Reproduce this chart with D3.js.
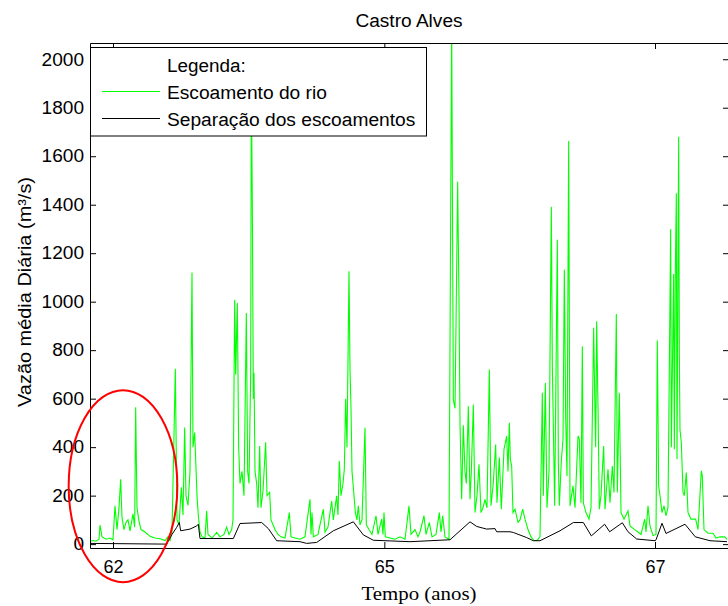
<!DOCTYPE html>
<html><head><meta charset="utf-8">
<script src="https://cdn.jsdelivr.net/npm/d3@7"></script>
<style>
html,body{margin:0;padding:0;background:#fff;}
svg{display:block;}
</style></head><body>
<svg id="chart" width="728" height="606"></svg>
<script>
// ---- data ----
const titulo = "Castro Alves";
const rotuloX = "Tempo (anos)";
const rotuloY = "Vazão média Diária (m³/s)";
const legendaTitulo = "Legenda:";
const nomesSeries = ["Escoamento do rio", "Separação dos escoamentos"];

// time in days from start of record
const diasRio = [0,9,18,27,30,36,48,60,69,75,81,87,92,96,102,108,114,120,129,134,137,141,147,153,165,180,195,210,225,234,240,246,256,261,267,274,279,284,288,294,300,306,309,314,321,325,330,336,345,350,354,366,380,390,402,410,417,425,429,434,437,442,446,450,456,462,469,473,477,482,484,487,490,492,495,500,504,509,513,519,527,531,539,543,549,555,564,573,585,598,603,615,630,645,660,663,666,670,684,700,705,714,725,730,740,744,748,753,759,763,767,771,777,780,783,786,792,796,801,805,810,816,825,829,837,846,858,864,875,879,882,886,900,915,930,945,957,963,975,984,990,1002,1008,1018,1026,1038,1048,1053,1058,1065,1077,1085,1090,1095,1098,1103,1107,1110,1115,1120,1125,1129,1135,1140,1144,1150,1155,1161,1167,1173,1179,1185,1191,1198,1203,1210,1217,1221,1228,1234,1242,1250,1254,1258,1261,1265,1269,1275,1284,1290,1298,1305,1314,1323,1332,1341,1350,1357,1360,1366,1371,1377,1384,1387,1394,1402,1405,1408,1414,1419,1423,1427,1431,1436,1440,1449,1455,1464,1468,1473,1477,1480,1488,1497,1503,1511,1514,1517,1520,1524,1528,1533,1541,1545,1554,1560,1567,1572,1579,1582,1588,1593,1602,1614,1620,1634,1644,1653,1664,1668,1674,1680,1689,1698,1702,1706,1710,1716,1722,1728,1734,1742,1744,1747,1751,1753,1756,1759,1761,1766,1768,1770,1774,1779,1783,1789,1794,1803,1817,1824,1834,1837,1842,1854,1869,1878,1890,1904,1911];
const vazaoRio = [12,15,12,20,78,30,20,25,18,158,60,150,267,110,60,90,100,55,125,70,565,150,95,60,50,32,25,22,15,30,15,50,723,100,80,234,120,481,200,160,300,1120,400,460,200,117,50,30,25,137,40,25,48,30,40,70,40,60,100,1008,700,995,400,250,300,200,953,300,250,700,1900,1400,600,707,300,250,150,405,150,220,420,200,213,100,80,60,40,30,25,130,30,25,20,30,185,40,130,30,40,144,50,70,178,100,199,120,343,200,250,309,600,400,1125,720,560,300,200,130,100,158,80,100,480,80,60,40,117,40,103,40,130,30,25,20,30,20,158,40,60,30,50,117,40,89,30,40,130,50,117,30,20,2150,597,560,900,1495,1008,500,185,490,300,250,569,185,300,576,130,200,329,130,150,185,150,720,158,254,411,171,357,144,391,446,300,501,350,322,130,144,90,100,144,103,60,30,15,15,30,624,200,665,150,300,1392,734,158,1255,336,158,343,432,1132,528,281,1663,158,240,150,446,432,171,816,171,130,103,150,892,624,400,919,568,144,200,405,144,309,171,322,213,949,213,624,130,103,137,75,60,50,40,103,50,158,75,35,40,840,240,200,130,158,117,150,1300,400,706,1114,391,1118,1447,350,1680,789,470,418,213,200,295,130,103,103,60,302,281,60,45,45,25,30,30,20];

const diasBase = [0,230,246,260,268,272,300,320,325,330,430,450,515,535,560,630,650,680,730,790,820,850,960,1080,1140,1160,1190,1215,1220,1260,1270,1310,1330,1350,1410,1450,1480,1504,1544,1559,1597,1614,1640,1696,1699,1716,1728,1785,1816,1860,1911];
const vazaoBase = [3,0,40,69,89,55,62,75,82,23,23,85,89,64,14,10,3,7,55,92,38,16,10,18,92,73,62,64,51,51,48,27,14,14,55,89,89,34,82,51,88,51,21,14,21,86,44,82,30,14,10];

const ticksX = [69, 883, 1695];
const rotulosTicksX = ["62", "65", "67"];
const ticksY = [0, 200, 400, 600, 800, 1000, 1200, 1400, 1600, 1800, 2000];

// highlighted region (ellipse) in data units
const destaqueCentro = [99, 239];
const destaqueRaios = [163, 396];

// ---- drawing ----
const svg = d3.select("#chart");
const L = 90, R = 729, T = 43, B = 548;
const x = d3.scaleLinear().domain([0, 1917]).range([L, R]);
const y = d3.scaleLinear().domain([-16, 2067]).range([B, T]);
const SANS = "'Liberation Sans', Arial, sans-serif";

svg.append("rect").attr("width", 728).attr("height", 606).attr("fill", "#fff");

svg.append("defs").append("clipPath").attr("id", "clip")
  .append("rect").attr("x", L).attr("y", T).attr("width", R - L).attr("height", B - T);

const line = d3.line().x(d => x(d[0])).y(d => y(d[1]));
const plot = svg.append("g").attr("clip-path", "url(#clip)");
plot.append("path").datum(diasRio.map((d, i) => [d, vazaoRio[i]]))
  .attr("d", line).attr("fill", "none").attr("stroke", "#00ff00").attr("stroke-width", 1.1);
plot.append("path").datum(diasBase.map((d, i) => [d, vazaoBase[i]]))
  .attr("d", line).attr("fill", "none").attr("stroke", "#000").attr("stroke-width", 1);

function styleAxis(g) {
  g.attr("font-family", SANS).attr("font-size", 18);
  g.selectAll(".domain").attr("stroke", "#000");
  g.selectAll(".tick line").attr("stroke", "#000");
  g.selectAll(".tick text").attr("fill", "#000");
}

svg.append("g").attr("transform", `translate(0,${B})`)
  .call(d3.axisBottom(x).tickValues(ticksX).tickFormat((d, i) => rotulosTicksX[i])
    .tickSizeInner(-6).tickSizeOuter(0).tickPadding(12)).call(styleAxis);
svg.append("g").attr("transform", `translate(0,${T})`)
  .call(d3.axisTop(x).tickValues(ticksX).tickFormat("")
    .tickSizeInner(-6).tickSizeOuter(0)).call(styleAxis);
const gy = svg.append("g").attr("transform", `translate(${L},0)`)
  .call(d3.axisLeft(y).tickValues(ticksY).tickFormat(d3.format("d"))
    .tickSizeInner(-6).tickSizeOuter(0).tickPadding(6)).call(styleAxis);
svg.append("g").attr("transform", `translate(${R},0)`)
  .call(d3.axisRight(y).tickValues(ticksY).tickFormat("")
    .tickSizeInner(-6).tickSizeOuter(0)).call(styleAxis);

// slightly wider glyphs, as in the reference
function widen(sel, k) {
  sel.each(function () {
    const n = this.getComputedTextLength();
    d3.select(this).attr("textLength", n * k).attr("lengthAdjust", "spacingAndGlyphs");
  });
}
widen(gy.selectAll(".tick text"), 1.06);

// title and labels
const tTitle = svg.append("text").attr("x", 409).attr("y", 27).attr("text-anchor", "middle")
  .attr("font-family", SANS).attr("font-size", 18).text(titulo);
widen(tTitle, 1.06);
svg.append("text").attr("x", 419).attr("y", 600).attr("text-anchor", "middle")
  .attr("font-family", "'Liberation Serif', 'Times New Roman', serif").attr("font-size", 19)
  .attr("textLength", 115).attr("lengthAdjust", "spacingAndGlyphs").text(rotuloX);
svg.append("text").attr("transform", "translate(31,292) rotate(-90)").attr("text-anchor", "middle")
  .attr("font-family", SANS).attr("font-size", 18)
  .attr("textLength", 230).attr("lengthAdjust", "spacingAndGlyphs").text(rotuloY);

// legend
const lg = svg.append("g");
lg.append("rect").attr("x", 90.5).attr("y", 47.5).attr("width", 336).attr("height", 88.5)
  .attr("fill", "#fff").attr("stroke", "#000").attr("stroke-width", 1);
const tLeg = lg.append("text").attr("x", 167).attr("y", 72).attr("font-family", SANS).attr("font-size", 18).text(legendaTitulo);
widen(tLeg, 1.05);
const corLeg = ["#00ff00", "#000"];
nomesSeries.forEach((n, i) => {
  const yy = 91.5 + i * 27;
  lg.append("line").attr("x1", 102).attr("x2", 160).attr("y1", yy).attr("y2", yy)
    .attr("stroke", corLeg[i]).attr("stroke-width", 1);
  const t = lg.append("text").attr("x", 167).attr("y", 99 + i * 26.5).attr("font-family", SANS)
    .attr("font-size", 18).text(n);
  widen(t, 1.065);
});

// highlight ellipse
svg.append("ellipse")
  .attr("cx", x(destaqueCentro[0])).attr("cy", y(destaqueCentro[1]))
  .attr("rx", x(destaqueRaios[0]) - x(0)).attr("ry", y(0) - y(destaqueRaios[1]))
  .attr("fill", "none").attr("stroke", "#ff0000").attr("stroke-width", 2);
</script>
</body></html>
